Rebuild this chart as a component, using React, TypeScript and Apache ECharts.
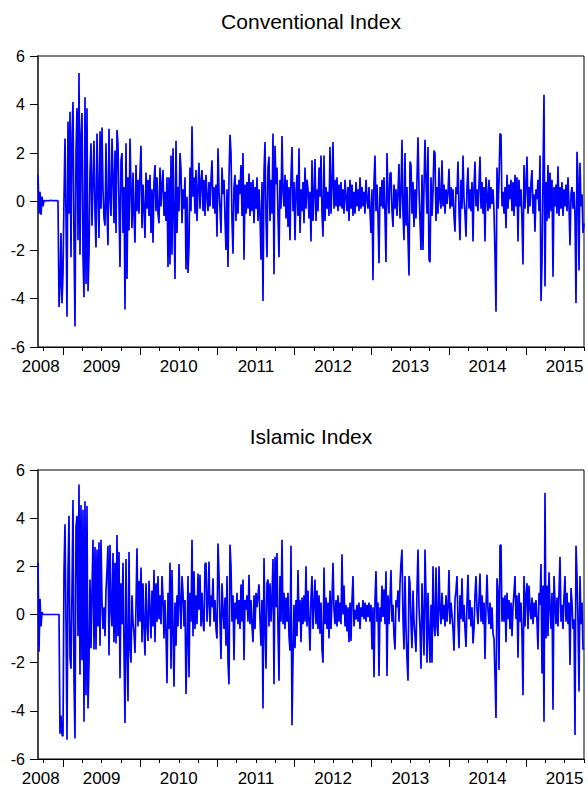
import React, { useEffect, useRef } from "react";
import * as echarts from "echarts";

const TITLES = ["Conventional Index", "Islamic Index"];
const YEARS = [2008, 2009, 2010, 2011, 2012, 2013, 2014, 2015];
// where each year label sits on the time axis (2008 is a partial year)
const YEAR_LABEL_AT = [2008.711, 2009.5, 2010.5, 2011.5, 2012.5, 2013.5, 2014.5, 2015.5];
const Y_MIN = -6;
const Y_MAX = 6;
const Y_STEP = 2;
// first and last observation (fractional years)
const START = 2008.676;
const END = 2015.751;

const CONVENTIONAL = [
  1.1,-0.5,0.4,-0.55,0.2,-0.2,0.05,0.02,0.03,0.04,
  0.03,0.04,0.03,0.05,0.04,0.03,0.04,0.04,0.03,0.04,
  0.03,-4.35,-3.5,-1.3,-4.2,-3.0,0.1,2.6,-0.6,-4.75,
  3.3,-0.5,3.7,-2.3,2.7,4.1,-1.7,-5.15,2.1,3.85,
  -1.6,5.3,-2.2,2.7,3.65,-2.3,-3.95,4.3,-3.4,3.85,
  -3.7,-2.2,1.2,2.4,-1.0,0.8,2.5,-0.5,-1.9,2.8,
  0.4,-1.5,2.9,-0.3,3.05,0.5,-0.7,-1.0,2.4,-0.4,
  -1.8,3.0,0.2,-0.6,2.6,1.0,-0.9,2.1,-1.3,2.95,
  2.35,-0.2,-2.7,1.7,2.0,-1.3,0.6,-4.45,2.4,-3.2,
  1.0,-1.2,2.6,0.5,-1.1,1.2,-0.6,-1.7,1.5,-0.4,
  0.9,-0.5,1.2,2.3,-1.1,0.7,-0.3,-1.5,1.2,-0.3,
  0.9,-0.6,1.1,-1.3,0.5,-1.7,0.8,1.5,-0.4,1.0,
  -0.5,-0.9,1.4,-0.2,0.7,1.3,-0.6,0.4,-0.8,1.0,
  -2.7,1.0,-2.6,1.9,-2.2,2.2,-0.5,-3.2,2.5,-1.3,
  0.6,-0.4,2.0,1.3,-0.9,0.5,-0.3,1.0,-2.8,0.2,
  -2.95,-1.8,1.4,-0.4,3.1,0.2,1.0,-0.5,1.3,-0.8,
  0.5,1.6,-0.3,0.8,1.3,-0.4,0.9,-0.6,1.1,0.2,
  -0.4,0.8,-0.2,0.9,1.7,-0.3,0.6,-0.5,0.7,-1.45,
  2.2,0.4,-0.3,-1.3,1.4,0.3,0.9,-0.7,-2.0,0.5,
  -2.7,1.0,2.75,2.0,-0.8,-2.15,0.6,1.1,-0.8,0.7,
  -0.5,0.9,0.3,1.5,-0.6,2.0,-2.4,0.7,-0.5,0.8,
  -0.3,1.15,-0.6,0.8,-0.4,0.9,-0.9,0.6,-0.3,1.0,
  -0.8,0.5,-0.6,-2.4,0.8,-4.1,1.2,2.45,-0.7,-2.3,
  1.4,1.85,-0.8,0.9,-0.5,2.8,-3.0,2.3,0.7,1.4,
  -0.6,-2.3,0.9,-0.3,2.7,0.4,-0.2,1.1,-0.7,0.9,
  -1.05,0.6,-1.6,1.0,2.25,-0.4,0.8,-1.6,0.4,1.1,
  -0.6,2.2,-1.3,0.5,-0.4,0.8,-0.9,1.4,-0.3,0.9,
  0.5,-0.7,0.4,-1.65,1.7,-0.8,0.3,1.75,-0.8,0.5,
  -0.4,1.4,0.2,1.9,-0.5,-1.45,1.9,-0.8,0.6,-0.3,
  0.4,-0.6,2.25,-0.5,0.7,2.45,-0.3,0.9,-0.2,1.0,
  -0.4,0.7,-0.2,0.8,-0.3,0.5,-0.5,0.9,0.2,-0.4,
  0.6,-0.8,0.9,-0.3,0.7,-0.6,0.4,-0.5,0.8,-0.2,
  0.5,-0.4,1.0,-0.3,0.6,-0.2,0.4,-0.5,0.9,0.1,
  -0.3,0.6,-0.4,-1.3,0.5,-3.25,0.8,1.9,-0.4,0.7,
  -0.6,-2.55,0.6,-0.2,0.9,-0.3,1.0,-0.6,-2.5,2.0,
  0.2,-0.5,1.15,1.2,-0.4,-1.05,0.7,-0.3,0.5,-0.6,
  0.4,1.55,-0.7,0.3,2.55,-0.5,-1.6,2.0,-1.0,0.6,
  -1.5,-3.05,1.65,1.5,-0.5,0.8,-1.05,0.5,-0.7,0.9,
  2.65,0.5,-0.8,-2.0,1.1,-2.0,0.6,2.55,0.8,-0.5,
  2.25,-2.4,-2.5,1.0,-0.6,0.4,2.1,2.0,-0.8,0.6,
  -0.5,1.4,0.1,-0.3,1.7,-0.2,0.7,-0.5,0.5,-0.1,
  0.4,1.35,-0.3,0.6,-0.2,0.5,-0.6,-1.25,0.6,0.3,
  1.65,-0.4,-1.6,0.9,-0.3,1.9,0.1,-0.5,-1.45,0.6,
  1.4,-0.3,0.5,-0.4,0.8,-1.65,0.6,1.65,-0.2,0.5,
  -0.4,0.7,1.85,-0.3,0.8,-0.5,0.6,-1.65,1.0,0.2,
  -0.4,0.9,-0.3,0.6,-0.1,0.5,-0.4,-2.2,-4.55,1.4,
  -0.3,0.8,2.8,2.75,-0.2,0.4,-0.5,0.6,-1.1,1.1,
  -0.3,0.7,0.1,0.9,-0.4,0.8,-0.6,1.1,-0.2,1.0,
  -1.65,0.9,-0.2,0.5,-0.8,-2.6,1.5,-0.3,0.7,1.85,
  -0.5,0.6,-0.2,0.8,1.3,-0.5,0.3,-1.25,0.5,0.1,
  0.9,-0.4,1.9,-4.1,-2.55,1.1,4.4,-3.5,0.8,-0.8,
  1.5,-0.7,1.2,-0.4,0.9,-3.1,0.6,-0.2,0.7,-0.5,
  1.45,-0.6,0.6,-0.3,0.8,-0.6,0.5,-0.2,0.7,-0.4,
  1.0,-0.2,-1.8,0.3,0.6,-0.3,0.4,-0.6,-4.2,2.05,
  0.9,-2.85,1.6,-0.2,0.3,-1.3,-0.9
];

const ISLAMIC = [
  2.15,-1.55,0.65,-0.5,0.1,0,0,0,0,0,
  0,0,0,0,0,0,0,0,0,0,
  0,0,-4.95,-4.2,-5.0,-5.05,1.8,3.75,-0.3,-5.2,
  1.75,4.1,-1.8,-2.25,1.0,4.75,-2.8,-5.15,3.65,4.1,
  -0.9,5.4,-2.5,4.55,-1.9,4.35,-4.45,4.7,-3.35,4.5,
  -3.9,-2.0,1.45,-1.4,1.0,3.1,-1.45,2.8,-1.45,2.7,
  -0.5,3.0,-1.3,3.1,0.5,-0.6,0.3,-0.9,1.0,1.85,
  2.85,-1.7,2.9,0.2,-0.5,2.55,-1.15,2.15,-1.2,3.3,
  -0.9,2.6,-2.65,1.3,-0.4,2.15,-1.4,-4.5,2.3,-1.4,
  -3.6,2.6,-1.4,-2.0,0.8,-0.3,-0.8,-1.6,0.4,2.75,
  -0.5,1.4,-0.3,1.95,-1.15,1.3,-0.5,-1.7,1.3,-0.4,
  -1.1,1.4,0.2,-1.0,1.0,-0.5,1.85,-1.15,1.3,-0.3,
  1.6,-0.2,0.8,-0.4,1.6,0.7,-1.0,0.6,-0.8,-2.85,
  0.9,-0.6,2.15,-2.25,1.85,-0.6,-3.0,0.5,-1.3,0.8,
  -0.5,2.1,0.5,-0.6,1.6,0.9,-0.5,0.6,-3.3,-1.2,
  1.6,-2.6,0.9,-0.3,3.1,-0.9,1.8,-0.6,0.8,-0.4,
  1.7,0.2,1.65,-0.5,0.9,-0.3,-0.7,2.1,2.15,-0.3,
  0.5,2.2,-0.5,0.8,0.3,1.5,-0.3,0.6,-0.6,-1.0,
  2.95,1.6,-0.3,-1.85,1.3,0.2,-0.6,0.7,-1.3,1.6,
  -2.0,-2.9,2.9,2.0,-0.3,0.8,-1.9,0.5,-0.2,0.9,
  -0.4,0.6,-0.6,1.25,-0.3,1.45,-1.9,0.6,0.2,0.8,
  -0.3,1.65,-0.4,0.6,-0.5,-1.15,0.8,-0.6,0.9,0.3,
  0.8,1.25,-0.2,-1.3,0.6,-3.9,2.35,-0.4,-2.25,1.3,
  1.45,-0.5,1.3,-0.3,0.7,2.3,-2.9,2.4,0.3,2.55,
  -0.6,-2.75,1.6,-0.3,3.1,-0.4,0.9,-0.6,0.7,-0.3,
  0.9,-0.9,-1.5,2.85,-4.6,-1.8,0.4,-1.4,0.6,-0.9,
  1.85,-0.3,0.6,-1.15,0.7,-0.4,0.8,-0.3,2.0,-0.5,
  1.0,-0.3,-1.5,0.7,1.6,-0.6,0.4,1.45,-0.4,1.0,
  -0.6,0.8,-0.8,0.5,-1.45,-2.0,1.95,-0.4,0.7,-0.6,
  0.5,-1.0,1.0,-0.6,0.6,2.15,0.2,-0.4,0.6,-0.5,
  0.8,-0.3,0.5,-0.4,2.5,0.0,1.2,-0.5,0.4,-0.7,
  0.3,-1.15,0.5,-1.1,0.6,1.6,-0.5,0.2,-0.2,0.4,
  -0.3,0.5,-0.6,0.3,-0.1,0.6,-0.2,0.5,-0.3,0.4,
  -0.1,0.5,-0.3,0.4,-1.45,0.3,-2.6,0.6,1.8,-0.3,
  0.5,-2.55,0.3,-0.3,1.2,-0.1,1.05,-0.4,1.8,-2.55,
  0.8,-0.4,0.6,1.85,-0.3,0.4,-0.9,-1.45,0.6,0.3,
  1.0,-0.3,1.3,2.15,2.7,-0.2,-1.45,1.6,-0.5,-1.85,
  -2.75,1.6,1.3,-0.4,-1.4,1.0,-0.3,-0.9,-1.55,1.0,
  2.7,0.3,-0.6,-2.25,1.3,-0.2,-1.7,2.7,0.8,-2.0,
  0.9,-0.8,-2.0,0.4,-2.0,2.0,-0.4,-0.9,1.95,-0.5,
  -0.9,2.0,0.2,-0.4,0.9,-0.2,0.4,-0.5,0.8,-0.3,
  0.3,1.85,-0.4,0.5,0.0,-0.6,-1.5,0.6,1.0,1.6,
  -0.3,-1.4,0.8,-0.2,1.5,-0.3,0.4,-0.6,-1.35,0.5,
  1.65,-0.2,0.6,-0.5,0.3,-1.2,-0.6,0.8,1.6,0.2,
  -0.4,0.6,1.7,-0.3,0.8,-0.4,0.5,-1.85,0.3,1.65,
  0.2,-0.4,0.5,-0.6,0.3,-0.8,-1.0,-2.55,-4.3,1.5,
  0.9,-2.3,2.85,2.9,-0.3,0.7,-0.3,0.8,-1.15,0.9,
  -0.2,0.6,-0.6,0.5,-0.9,0.3,0.9,1.6,-0.2,0.8,
  -1.8,0.9,-0.3,0.5,-0.9,-3.35,1.6,-0.5,0.8,1.3,
  -0.6,1.2,0.3,-0.2,0.7,-0.4,0.5,-0.1,0.6,-0.3,
  -1.45,0.9,0.4,2.1,-2.45,1.2,-4.45,5.05,-1.0,1.2,
  -0.9,1.75,0.3,-0.6,0.9,-3.95,1.6,0.5,-0.4,0.7,
  -0.5,0.9,2.4,-0.3,0.4,-0.6,0.7,1.6,-0.3,0.9,
  -0.4,0.5,-2.1,1.1,0.5,-0.6,-0.2,-5.0,2.85,1.6,
  -0.3,-3.2,1.6,-0.4,0.5,-1.45,-1.4
];

const SERIES = [CONVENTIONAL, ISLAMIC];

const FONT = "'Liberation Sans', Arial, Helvetica, sans-serif";
const PLOT_LEFT = 38;
const PLOT_WIDTH = 546;
const PLOT_HEIGHT = 291;
const PLOT_TOPS = [56, 470];
const TITLE_TOPS = [11, 426];

export default function App() {
  const ref = useRef<HTMLDivElement>(null);

  useEffect(() => {
    if (!ref.current) return;
    const chart = echarts.init(ref.current, undefined, { renderer: "svg" });

    const quarterTicks: number[] = [];
    for (let q = Math.ceil(START * 4); q <= Math.floor(END * 4); q++) quarterTicks.push(q / 4);
    const yearTicks = YEARS.filter((y) => y >= START && y <= END);

    const grids: any[] = [];
    const xAxes: any[] = [];
    const yAxes: any[] = [];
    const series: any[] = [];
    const graphics: any[] = [];

    SERIES.forEach((vals, p) => {
      grids.push({
        left: PLOT_LEFT,
        top: PLOT_TOPS[p],
        width: PLOT_WIDTH,
        height: PLOT_HEIGHT,
        show: true,
        borderColor: "#000",
        borderWidth: 1,
        backgroundColor: "transparent",
      });
      // quarter ticks + year labels
      xAxes.push({
        type: "value",
        gridIndex: p,
        min: START,
        max: END,
        position: "bottom",
        axisLine: { show: true, onZero: false, lineStyle: { color: "#000", width: 1 } },
        axisTick: { show: true, inside: false, length: 4, customValues: quarterTicks, lineStyle: { color: "#000", width: 1 } },
        axisLabel: {
          show: true,
          customValues: YEAR_LABEL_AT,
          formatter: (v: number) => {
            const idx = YEAR_LABEL_AT.findIndex((a) => Math.abs(a - v) < 1e-6);
            return idx >= 0 ? String(YEARS[idx]) : "";
          },
          margin: 11,
          fontSize: 17,
          color: "#000",
          fontFamily: FONT,
        },
        splitLine: { show: false },
      });
      // longer ticks at year starts
      xAxes.push({
        type: "value",
        gridIndex: p,
        min: START,
        max: END,
        position: "bottom",
        axisLine: { show: false, onZero: false },
        axisTick: { show: true, inside: false, length: 8, customValues: yearTicks, lineStyle: { color: "#000", width: 1 } },
        axisLabel: { show: false },
        splitLine: { show: false },
      });
      yAxes.push({
        type: "value",
        gridIndex: p,
        min: Y_MIN,
        max: Y_MAX,
        interval: Y_STEP,
        axisLine: { show: true, onZero: false, lineStyle: { color: "#444", width: 2 } },
        axisTick: { show: true, inside: false, length: 8, lineStyle: { color: "#000", width: 1 } },
        axisLabel: { fontSize: 16, color: "#000", margin: 13, fontFamily: FONT },
        splitLine: { show: false },
      });
      const n = vals.length;
      series.push({
        type: "line",
        xAxisIndex: p * 2,
        yAxisIndex: p,
        data: vals.map((v, i) => [START + ((END - START) * i) / (n - 1), v]),
        showSymbol: false,
        symbol: "none",
        lineStyle: { color: "#0000FF", width: 1.7 },
        silent: true,
      });
      graphics.push({
        type: "text",
        x: PLOT_LEFT + PLOT_WIDTH / 2,
        y: TITLE_TOPS[p],
        style: {
          text: TITLES[p],
          fontSize: 21,
          fontFamily: FONT,
          fill: "#000",
          align: "center",
          verticalAlign: "top",
        },
      });
    });

    chart.setOption({
      animation: false,
      backgroundColor: "#fff",
      grid: grids,
      xAxis: xAxes,
      yAxis: yAxes,
      series,
      graphic: graphics,
    });

    return () => chart.dispose();
  }, []);

  return (
    <div
      ref={ref}
      style={{ position: "fixed", left: 0, top: 0, width: 588, height: 787, background: "#fff" }}
    />
  );
}
